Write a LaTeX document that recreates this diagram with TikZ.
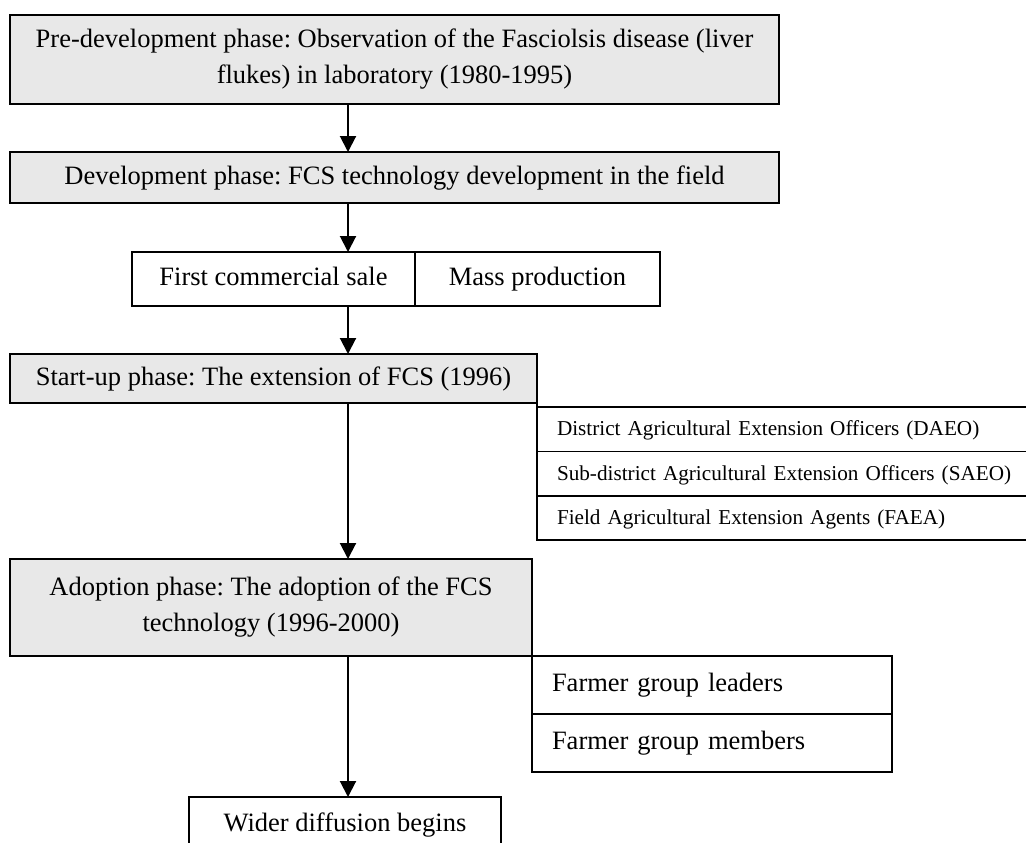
\documentclass[tikz,border=0pt]{standalone}
\usepackage{fontspec}
\setmainfont{Liberation Serif}
\usetikzlibrary{arrows.meta}
\definecolor{phasefill}{RGB}{232,232,232}
\frenchspacing
\begin{document}
\begin{tikzpicture}[x=0.5pt,y=-0.5pt,
  box/.style={draw=black, line width=0.85pt, inner sep=0pt, outer sep=0pt, anchor=north west,
    font=\fontsize{13.25}{18}\selectfont, align=center},
  oneline/.style={text height=0.9em, text depth=0.22em},
  phase/.style={box, fill=phasefill},
  plainbox/.style={box, oneline, fill=white},
  listrow/.style={box, oneline, fill=white, inner xsep=10pt, align=left},
  smallrow/.style={listrow, font=\fontsize{10.6}{13}\selectfont},
  flow/.style={line width=1pt, -{Triangle[length=8pt,width=8pt]}},
  joinline/.style={line width=0.85pt}
]
\useasboundingbox (0,0) rectangle (1026,842);
\begin{scope}
\clip (0,0) rectangle (1026,842);
\coordinate (ax) at (348,0);
\node[phase, minimum width=384.5pt, minimum height=44.5pt] (pre) at (10,15)
  {Pre-development phase: Observation of the Fasciolsis disease (liver\\flukes) in laboratory (1980-1995)};
\node[phase, oneline, minimum width=384.5pt, minimum height=25.5pt] (dev) at (10,152)
  {Development phase: FCS technology development in the field};
\node[plainbox, minimum width=141.5pt, minimum height=27pt] (sale) at (132,252)
  {First commercial sale};
\node[plainbox, minimum width=122.5pt, minimum height=27pt] (mass) at (sale.north east)
  {Mass production};
\node[phase, oneline, minimum width=263.5pt, minimum height=24.5pt] (start) at (10,354)
  {Start-up phase: The extension of FCS (1996)};
\node[smallrow, minimum width=255pt, text width=235pt, minimum height=22.17pt] (daeo) at (537,407)
  {District Agricultural Extension Officers (DAEO)};
\node[smallrow, minimum width=255pt, text width=235pt, minimum height=22.17pt] (saeo) at (daeo.south west)
  {Sub-district Agricultural Extension Officers (SAEO)};
\node[smallrow, minimum width=255pt, text width=235pt, minimum height=22.17pt] (faea) at (saeo.south west)
  {Field Agricultural Extension Agents (FAEA)};
\draw[joinline] (start.south east) -- (daeo.north west);
\node[phase, minimum width=261pt, minimum height=48.5pt] (adopt) at (10,559)
  {Adoption phase: The adoption of the FCS\\technology (1996-2000)};
\node[listrow, minimum width=180pt, text width=160pt, minimum height=29pt] (lead) at (adopt.south east)
  {Farmer group leaders};
\node[listrow, minimum width=180pt, text width=160pt, minimum height=29pt] (memb) at (lead.south west)
  {Farmer group members};
\node[plainbox, minimum width=156pt, minimum height=28pt] (wider) at (189,797)
  {Wider diffusion begins};
\draw[flow] (pre.south -| ax) -- (dev.north -| ax);
\draw[flow] (dev.south -| ax) -- (sale.north -| ax);
\draw[flow] (sale.south -| ax) -- (start.north -| ax);
\draw[flow] (start.south -| ax) -- (adopt.north -| ax);
\draw[flow] (adopt.south -| ax) -- (wider.north -| ax);
\end{scope}
\end{tikzpicture}
\end{document}
